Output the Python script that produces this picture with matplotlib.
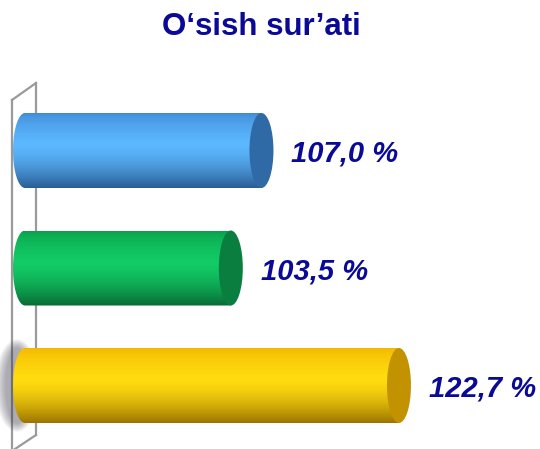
import numpy as np
import matplotlib
matplotlib.use("Agg")
import matplotlib.pyplot as plt
from matplotlib.patches import Ellipse, PathPatch
from matplotlib.path import Path

# ---- data ----
categories = ["A", "B", "C"]          # top to bottom: blue, green, yellow
values = [107.0, 103.5, 122.7]
labels = ["107,0 %", "103,5 %", "122,7 %"]
title = "O\u2018sish sur\u2019ati"

# ---- styles ----
body_light = ["#5cb8ff", "#12cc66", "#ffdc10"]
body_top = ["#3f88d4", "#0a9e4a", "#f2b600"]
body_bottom = ["#2a5c94", "#086a34", "#9c7400"]
cap_color = ["#2f6aa6", "#0a7e3e", "#c29200"]
text_color = "#0a0a96"

W, H = 540, 449
fig = plt.figure(figsize=(W / 100, H / 100), dpi=100)
ax = fig.add_axes([0, 0, 1, 1])
ax.axis("off")

baseline = 80.0
px_per_unit = 8.758
x0 = baseline - 25 / px_per_unit
x1 = baseline + (W - 25) / px_per_unit
ax.set_xlim(x0, x1)
spacing_px = 117.5
bottom_center_px = 63.5
ax.set_ylim(-bottom_center_px / spacing_px, (H - bottom_center_px) / spacing_px)

bar_h = 75 / spacing_px
cap_w = 24 / px_per_unit

# 3D wall (axes decoration)
wall_color = "#9a9a9a"
ax.plot([12 / W, 12 / W], [0, 1 - 100 / H], color=wall_color, lw=1.6, transform=ax.transAxes, zorder=1)
ax.plot([36 / W, 36 / W], [1 - 435 / H, 1 - 83 / H], color=wall_color, lw=1.6, transform=ax.transAxes, zorder=1)
ax.plot([12 / W, 36 / W], [1 - 100 / H, 1 - 83 / H], color=wall_color, lw=1.6, transform=ax.transAxes, zorder=1)
ax.plot([12 / W, 36 / W], [1 - 451 / H, 1 - 435 / H], color=wall_color, lw=1.6, transform=ax.transAxes, zorder=1)

n = len(values)
for i, (v, lab) in enumerate(zip(values, labels)):
    yc = n - 1 - i
    yb, yt = yc - bar_h / 2, yc + bar_h / 2

    # shadow for last bar near wall
    if i == n - 1:
        for k in range(8):
            sh = Ellipse((baseline - 0.9, yc), cap_w * (1.0 + 0.12 * k), bar_h * (1.02 + 0.03 * k),
                         facecolor="#303040", edgecolor="none", alpha=0.06, zorder=2)
            ax.add_patch(sh)

    # body path: left half-ellipse + rectangle to right cap center
    t = np.linspace(np.pi / 2, 3 * np.pi / 2, 40)
    left = np.column_stack([baseline + cap_w / 2 * np.cos(t), yc + bar_h / 2 * np.sin(t)])
    verts = np.vstack([[v, yt], left, [v, yb], [v, yt]])
    codes = [Path.MOVETO] + [Path.LINETO] * (len(verts) - 2) + [Path.CLOSEPOLY]
    path = Path(verts, codes)
    patch = PathPatch(path, facecolor="none", edgecolor="none", zorder=3)
    ax.add_patch(patch)

    # vertical gradient
    s = np.linspace(0, 1, 200)  # 0 = top, 1 = bottom
    c_top = np.array(matplotlib.colors.to_rgb(body_top[i]))
    c_mid = np.array(matplotlib.colors.to_rgb(body_light[i]))
    c_bot = np.array(matplotlib.colors.to_rgb(body_bottom[i]))
    grad = np.zeros((200, 1, 3))
    for j, sv in enumerate(s):
        if sv < 0.4:
            f = (sv / 0.4) ** 0.6
            col = c_top * (1 - f) + c_mid * f
        else:
            f = ((sv - 0.4) / 0.6) ** 1.6
            col = c_mid * (1 - f) + c_bot * f
        grad[j, 0] = col
    im = ax.imshow(grad, extent=(baseline - cap_w, v, yb, yt), aspect="auto",
                   origin="upper", zorder=3, interpolation="bilinear")
    im.set_clip_path(patch)

    # end cap
    cap = Ellipse((v, yc), cap_w, bar_h, facecolor=cap_color[i], edgecolor="none", zorder=4)
    ax.add_patch(cap)

    ax.annotate(lab, xy=(v, yc), xytext=(30, -3), textcoords="offset pixels",
                ha="left", va="center", fontsize=21, fontweight="bold", fontstyle="italic",
                family="Liberation Sans", color=text_color, zorder=5)

ax.set_xlim(x0, x1)
ax.set_ylim(-bottom_center_px / spacing_px, (H - bottom_center_px) / spacing_px)

fig.text(261 / W, 1 - 27 / H, title, ha="center", va="center", fontsize=22.5,
         fontweight="bold", family="Liberation Sans", color=text_color)

fig.savefig("out.png", dpi=100)
